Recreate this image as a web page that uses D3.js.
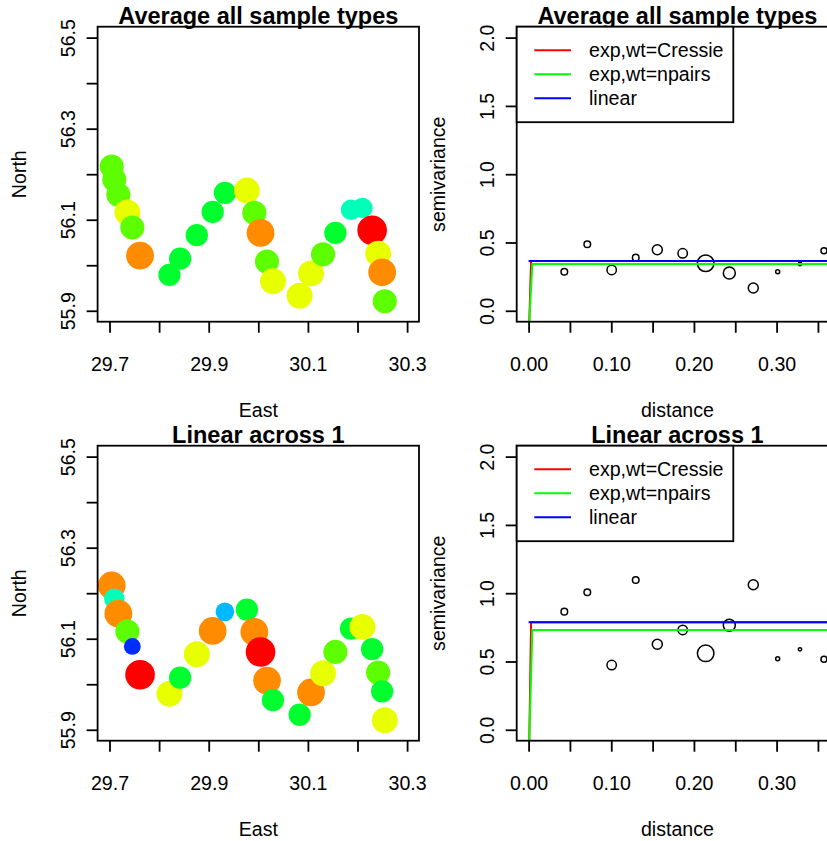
<!DOCTYPE html>
<html>
<head>
<meta charset="utf-8">
<script src="https://cdn.jsdelivr.net/npm/d3@7"></script>
<style>
  body { margin: 0; background: #fff; }
  svg { display: block; font-family: "Liberation Sans", Arial, sans-serif; }
</style>
</head>
<body>
<svg id="chart"></svg>
<script>
// sampling sites (same for both rows)
var east = [29.7045, 29.7097, 29.7178, 29.736, 29.746, 29.7616, 29.8208, 29.8424, 29.876, 29.908,
            29.9327, 29.977, 29.992, 30.0045, 30.0175, 30.0296, 30.0833, 30.1063, 30.1305, 30.1554,
            30.187, 30.21, 30.2295, 30.2416, 30.2497, 30.255];
var north = [56.217, 56.188, 56.155, 56.116, 56.083, 56.021, 55.979, 56.0145, 56.066, 56.117,
             56.159, 56.164, 56.115, 56.071, 56.008, 55.965, 55.933, 55.982, 56.024, 56.071,
             56.122, 56.126, 56.077, 56.0255, 55.9845, 55.921];

// value class per site (0 = highest)
var classAvg = [3, 3, 3, 2, 3, 1, 4, 4, 4, 4, 4, 2, 3, 1, 3, 2, 2, 2, 3, 4, 5, 5, 0, 2, 1, 3];
var classLin = [1, 5, 1, 3, 7, 0, 2, 4, 2, 1, 6, 4, 1, 0, 1, 4, 4, 1, 2, 3, 4, 2, 4, 3, 4, 2];

// empirical variogram
var lagDist = [0.0432, 0.071, 0.1005, 0.1296, 0.1557, 0.1864, 0.2142, 0.2428, 0.2718, 0.3013, 0.3283, 0.3573];
var npairs = [33, 33, 47, 33, 50, 47, 83, 60, 50, 20, 17, 30];
var gammaAvg = [0.286, 0.487, 0.299, 0.389, 0.447, 0.421, 0.348, 0.277, 0.167, 0.286, 0.342, 0.44];
var gammaLin = [0.865, 1.007, 0.474, 1.097, 0.626, 0.731, 0.56, 0.765, 1.062, 0.52, 0.589, 0.516];

// fitted models [distance, semivariance]
var modelNames = ['exp,wt=Cressie', 'exp,wt=npairs', 'linear'];
var modelColors = ['#ff0000', '#00ff00', '#0000ff'];
var modelsAvg = [
  [[0.0008, -0.08], [0.003, 0.364], [0.38, 0.364]],
  [[0.0008, -0.08], [0.0045, 0.342], [0.38, 0.342]],
  [[0, 0.364], [0.38, 0.364]]
];
var modelsLin = [
  [[0.0008, -0.08], [0.003, 0.787], [0.38, 0.787]],
  [[0.0008, -0.08], [0.0045, 0.731], [0.38, 0.731]],
  [[0, 0.787], [0.38, 0.787]]
];

// axes
var eastLim = [29.7, 30.3], northLim = [55.9, 56.5];
var distLim = [0, 0.36], gammaLim = [0, 2];
var eastTicks = [29.7, 29.8, 29.9, 30.0, 30.1, 30.2, 30.3];
var eastLabels = [29.7, 29.9, 30.1, 30.3];
var northTicks = [55.9, 56.0, 56.1, 56.2, 56.3, 56.4, 56.5];
var northLabels = [55.9, 56.1, 56.3, 56.5];
var distTicks = [0, 0.05, 0.1, 0.15, 0.2, 0.25, 0.3, 0.35];
var distLabels = [0, 0.1, 0.2, 0.3];
var gammaTicks = [0, 0.5, 1, 1.5, 2];

var titles = ['Average all sample types', 'Linear across 1'];
var classColors = ['#FF0000', '#FF8B00', '#E8FF00', '#5DFF00', '#00FF2E', '#00FFB9', '#00B9FF', '#002EFF'];

var width = 827, height = 841;
var rowStep = 419;
var boxTop = 26.7, boxBottom = 321.7;
var leftBox = [97.6, 419], rightBox = [516.7, 838.1];
var baseSize = 19.6, titleSize = 23.5, lw = 1.8;

var svg = d3.select('#chart').attr('width', width).attr('height', height);

// R-style 4% axis extension
function ext(lim) {
  var d = (lim[1] - lim[0]) * 0.04;
  return [lim[0] - d, lim[1] + d];
}
function has(list, v) {
  return list.some(function (x) { return Math.abs(x - v) < 1e-9; });
}

var colorScale = d3.scaleOrdinal().domain(d3.range(8)).range(classColors);
var radiusScale = d3.scaleLinear().domain([0, 7]).range([14.8, 8.4]);
var pairScale = d3.scaleLinear().domain([0, 100]).range([0, 10]);

function frame(g, box, y0, y1, xScale, yScale, xTicks, xFmt, yTicks, yFmt, xTitle, yTitle, yTitleX, title) {
  var xAxis = d3.axisBottom(xScale).tickValues(xTicks).tickFormat(xFmt).tickSize(11).tickSizeOuter(0);
  var gx = g.append('g').attr('transform', 'translate(0,' + y1 + ')').call(xAxis);
  gx.select('.domain').remove();
  gx.selectAll('line').attr('stroke-width', lw);
  gx.selectAll('text').attr('y', 49).attr('dy', null)
    .style('font-size', baseSize + 'px').attr('fill', '#000');

  var yAxis = d3.axisLeft(yScale).tickValues(yTicks).tickFormat(yFmt).tickSize(11).tickSizeOuter(0);
  var gy = g.append('g').attr('transform', 'translate(' + box[0] + ',0)').call(yAxis);
  gy.select('.domain').remove();
  gy.selectAll('line').attr('stroke-width', lw);
  gy.selectAll('text').attr('x', null).attr('dy', null)
    .attr('text-anchor', 'middle')
    .attr('transform', 'translate(-23,0) rotate(-90)')
    .style('font-size', baseSize + 'px').attr('fill', '#000');

  g.append('rect')
    .attr('x', box[0]).attr('y', y0)
    .attr('width', box[1] - box[0]).attr('height', y1 - y0)
    .attr('fill', 'none').attr('stroke', '#000').attr('stroke-width', lw);

  var cx = (box[0] + box[1]) / 2;
  g.append('text').attr('x', cx).attr('y', y1 + 95)
    .attr('text-anchor', 'middle').style('font-size', baseSize + 'px').text(xTitle);
  g.append('text')
    .attr('transform', 'translate(' + yTitleX + ',' + ((y0 + y1) / 2) + ') rotate(-90)')
    .attr('text-anchor', 'middle').style('font-size', baseSize + 'px').text(yTitle);
  g.append('text').attr('x', cx).attr('y', y0 - 2.6)
    .attr('text-anchor', 'middle').style('font-size', titleSize + 'px')
    .style('font-weight', 'bold').text(title);
}

function drawMap(row, classes, title) {
  var y0 = boxTop + row * rowStep, y1 = boxBottom + row * rowStep;
  var xScale = d3.scaleLinear().domain(ext(eastLim)).range(leftBox);
  var yScale = d3.scaleLinear().domain(ext(northLim)).range([y1, y0]);
  var g = svg.append('g');

  g.append('g').selectAll('circle')
    .data(d3.range(east.length))
    .enter()
    .append('circle')
      .attr('cx', i => xScale(east[i]))
      .attr('cy', i => yScale(north[i]))
      .attr('r', i => radiusScale(classes[i]))
      .attr('fill', i => colorScale(classes[i]));

  frame(g, leftBox, y0, y1, xScale, yScale,
        eastTicks, d => has(eastLabels, d) ? d3.format('.1f')(d) : '',
        northTicks, d => has(northLabels, d) ? d3.format('.1f')(d) : '',
        'East', 'North', 25.5, title);
}

function drawVariogram(row, gamma, models, title) {
  var y0 = boxTop + row * rowStep, y1 = boxBottom + row * rowStep;
  var xScale = d3.scaleLinear().domain(ext(distLim)).range(rightBox);
  var yScale = d3.scaleLinear().domain(ext(gammaLim)).range([y1, y0]);
  var g = svg.append('g');
  var clipId = 'clip' + row;

  g.append('clipPath').attr('id', clipId)
    .append('rect')
      .attr('x', rightBox[0]).attr('y', y0)
      .attr('width', rightBox[1] - rightBox[0]).attr('height', y1 - y0);

  g.append('g').selectAll('circle')
    .data(lagDist)
    .enter()
    .append('circle')
      .attr('cx', d => xScale(d))
      .attr('cy', (d, i) => yScale(gamma[i]))
      .attr('r', (d, i) => pairScale(npairs[i]))
      .attr('fill', 'none')
      .attr('stroke', '#000')
      .attr('stroke-width', 1.5);

  var line = d3.line().x(d => xScale(d[0])).y(d => yScale(d[1]));
  g.append('g').attr('clip-path', 'url(#' + clipId + ')')
    .selectAll('path')
    .data(models)
    .enter()
    .append('path')
      .attr('d', line)
      .attr('fill', 'none')
      .attr('stroke', (d, i) => modelColors[i])
      .attr('stroke-width', 2);

  frame(g, rightBox, y0, y1, xScale, yScale,
        distTicks, d => has(distLabels, d) ? d3.format('.2f')(d) : '',
        gammaTicks, d3.format('.1f'),
        'distance', 'semivariance', 445, title);

  // legend
  var lg = g.append('g').attr('transform', 'translate(' + rightBox[0] + ',' + y0 + ')');
  lg.append('rect').attr('width', 216.6).attr('height', 95.5)
    .attr('fill', '#fff').attr('stroke', '#000').attr('stroke-width', lw);
  var item = lg.selectAll('g.item')
    .data(modelNames)
    .enter()
    .append('g')
      .attr('class', 'item')
      .attr('transform', (d, i) => 'translate(0,' + (23.5 + i * 24) + ')');
  item.append('line').attr('x1', 17.6).attr('x2', 54.3)
    .attr('stroke', (d, i) => modelColors[i]).attr('stroke-width', 2);
  item.append('text').attr('x', 72.3).attr('dy', '0.35em')
    .style('font-size', baseSize + 'px').text(d => d);
}

drawMap(0, classAvg, titles[0]);
drawVariogram(0, gammaAvg, modelsAvg, titles[0]);
drawMap(1, classLin, titles[1]);
drawVariogram(1, gammaLin, modelsLin, titles[1]);
</script>
</body>
</html>
